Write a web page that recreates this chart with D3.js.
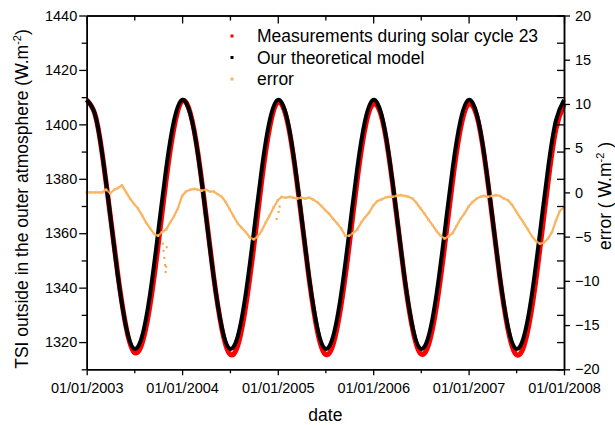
<!DOCTYPE html>
<html>
<head>
<meta charset="utf-8">
<script src="https://cdn.jsdelivr.net/npm/d3@7"></script>
<style>
  body { margin: 0; background: #fff; }
  svg { font-family: "Liberation Sans", Arial, sans-serif; }
</style>
</head>
<body>
<div id="chart"></div>
<script>
// TSI values, one value on the 1st of each month, Jan 2003 .. Jan 2008
var modelTSI = [
  1409.0, 1403.9, 1389.4, 1366.7, 1343.7, 1325.4, 1317.6, 1322.2, 1338.1, 1360.2, 1383.9, 1401.4,
  1409.0, 1403.9, 1389.4, 1366.7, 1343.7, 1325.4, 1317.6, 1322.2, 1338.1, 1360.2, 1383.9, 1401.4,
  1409.0, 1403.9, 1389.4, 1366.7, 1343.7, 1325.4, 1317.6, 1322.2, 1338.1, 1360.2, 1383.9, 1401.4,
  1409.0, 1403.9, 1389.4, 1366.7, 1343.7, 1325.4, 1317.6, 1322.2, 1338.1, 1360.2, 1383.9, 1401.4,
  1409.0, 1403.9, 1389.4, 1366.7, 1343.7, 1325.4, 1317.6, 1322.2, 1338.1, 1360.2, 1383.9, 1401.4,
  1409.0
];
var measuredTSI = [
  1409.0, 1403.9, 1389.4, 1366.6, 1344.2, 1325.4, 1316.3, 1319.6, 1334.0, 1355.3, 1379.7, 1398.7,
  1408.6, 1404.2, 1389.7, 1367.0, 1343.8, 1324.9, 1315.7, 1318.7, 1333.6, 1354.9, 1379.6, 1398.8,
  1408.1, 1403.3, 1388.8, 1366.1, 1343.1, 1324.3, 1315.6, 1319.2, 1334.0, 1355.3, 1379.7, 1398.6,
  1407.5, 1403.1, 1388.9, 1366.3, 1343.3, 1324.7, 1315.8, 1319.1, 1333.7, 1355.0, 1379.3, 1398.4,
  1407.4, 1403.2, 1389.0, 1366.3, 1343.3, 1324.5, 1315.5, 1318.7, 1333.1, 1354.4, 1378.7, 1398.2,
  1407.3
];
// error (W.m-2), on the 1st and 16th of each month
var errorValues = [
  0, 0, 0, 0, 0, 0.3, -0.1, 0.3, 0.5, 0.8, 0.0, -0.7, -1.3, -1.8, -2.6, -3.4, -4.1, -4.7, -4.9, -4.5, -4.2, -3.4, -2.7, -1.8,
  -0.4, 0.1, 0.3, 0.4, 0.3, 0.2, 0.3, 0.1, 0.1, -0.2, -0.5, -1.1, -1.9, -2.7, -3.5, -4.0, -4.5, -5.1, -5.3, -5.0, -4.3, -3.4, -2.6, -1.7,
  -0.9, -0.5, -0.6, -0.5, -0.6, -0.7, -0.6, -0.7, -0.6, -0.8, -1.1, -1.5, -2.0, -2.4, -3.0, -3.5, -4.1, -4.9, -4.9, -4.6, -4.2, -3.4, -2.8, -2.3,
  -1.5, -1.0, -0.8, -0.6, -0.5, -0.5, -0.4, -0.3, -0.4, -0.5, -0.7, -1.2, -1.8, -2.4, -3.1, -3.7, -4.4, -4.9, -5.2, -5.0, -4.6, -3.8, -3.0, -2.4,
  -1.6, -1.1, -0.7, -0.5, -0.4, -0.5, -0.4, -0.3, -0.4, -0.7, -0.9, -1.4, -2.1, -2.8, -3.5, -4.2, -5.0, -5.5, -5.8, -5.7, -5.2, -4.5, -3.2, -2.1,
  -1.7
];
// scattered error points away from the main trace
var outlierDates = ["2003-10-19", "2003-10-22", "2003-10-25", "2003-10-28", "2003-10-30", "2003-11-01", "2003-11-03",
                    "2004-12-28", "2005-01-04", "2005-01-08"];
var outlierValues = [-5.8, -6.6, -7.4, -8.2, -9.0, -8.4, -6.2, -3.0, -2.2, -1.6];

var leftTicks = [1320, 1340, 1360, 1380, 1400, 1420, 1440];
var rightTicks = [-20, -15, -10, -5, 0, 5, 10, 15, 20];
var yearTicks = ["2003-01-01", "2004-01-01", "2005-01-01", "2006-01-01", "2007-01-01", "2008-01-01"];

var legendItems = [
  {label: "Measurements during solar cycle 23", color: "#ff0000"},
  {label: "Our theoretical model", color: "#000000"},
  {label: "error", color: "#f8b868"}
];

var parseDate = d3.timeParse("%Y-%m-%d");
var fmt = d3.timeFormat("%d/%m/%Y");

var monthDates = d3.timeMonth.range(new Date(2003, 0, 1), new Date(2008, 0, 2));
var errorDates = [];
monthDates.forEach(function(d) {
    errorDates.push(d);
    errorDates.push(new Date(d.getFullYear(), d.getMonth(), 16));
});
errorDates = errorDates.slice(0, errorValues.length);

var width = 615, height = 425;
var margin = {top: 15.5, right: 51, bottom: 55.7, left: 86.7};

var svg = d3.select("#chart").append("svg")
    .attr("width", width)
    .attr("height", height);

var x = d3.scaleTime()
    .domain([parseDate("2003-01-01"), parseDate("2008-01-01")])
    .range([margin.left, width - margin.right]);
var yL = d3.scaleLinear().domain([1310, 1440]).range([height - margin.bottom, margin.top]);
var yR = d3.scaleLinear().domain([-20, 20]).range([height - margin.bottom, margin.top]);

var midYears = [2003, 2004, 2005, 2006, 2007].map(function(y) { return new Date(y, 6, 2); });
var majorDates = yearTicks.map(parseDate);
var leftMinor = d3.range(1310, 1441, 10).filter(function(v) { return leftTicks.indexOf(v) < 0; });

var plot = svg.append("g");

// measured (red) under model (black)
var tsiLine = function(vals, scale) {
    return d3.line()
        .x(function(d, i) { return x(monthDates[i]); })
        .y(function(d) { return scale(d); })
        .curve(d3.curveNatural)(vals);
};
plot.append("path")
    .attr("d", tsiLine(measuredTSI, yL))
    .attr("fill", "none")
    .attr("stroke", "#ff0000")
    .attr("stroke-width", 5);
plot.append("path")
    .attr("d", tsiLine(modelTSI, yL))
    .attr("fill", "none")
    .attr("stroke", "#000")
    .attr("stroke-width", 4);

// error trace
plot.append("path")
    .attr("d", d3.line()
        .x(function(d, i) { return x(errorDates[i]); })
        .y(function(d) { return yR(d); })(errorValues))
    .attr("fill", "none")
    .attr("stroke", "#f7a640")
    .attr("stroke-width", 2.2)
    .attr("stroke-opacity", 0.85);
plot.selectAll(".err")
    .data(errorValues)
    .enter().append("rect")
    .attr("x", function(d, i) { return x(errorDates[i]) - 1.2; })
    .attr("y", function(d) { return yR(d) - 1.2; })
    .attr("width", 2.4).attr("height", 2.4)
    .attr("fill", "#f8b868");
plot.selectAll(".outl")
    .data(outlierValues)
    .enter().append("rect")
    .attr("x", function(d, i) { return x(parseDate(outlierDates[i])) - 1; })
    .attr("y", function(d) { return yR(d) - 1; })
    .attr("width", 2).attr("height", 2)
    .attr("fill", "#f5a038");

// axes
var axisStyle = function(g) {
    g.select(".domain").attr("stroke-width", 1.5);
    g.selectAll(".tick line").attr("stroke-width", 1.3);
    g.selectAll("text").attr("font-family", "Liberation Sans, Arial, sans-serif").attr("fill", "#000");
};

var bottom = height - margin.bottom;
svg.append("g")
    .attr("transform", "translate(0," + bottom + ")")
    .call(d3.axisBottom(x).tickValues(majorDates).tickFormat(fmt).tickSize(6).tickPadding(7).tickSizeOuter(0))
    .call(axisStyle)
    .selectAll("text").attr("font-size", 14.5);
svg.append("g")
    .attr("transform", "translate(0," + bottom + ")")
    .call(d3.axisBottom(x).tickValues(midYears).tickFormat("").tickSize(4).tickSizeOuter(0))
    .call(axisStyle);
svg.append("g")
    .attr("transform", "translate(0," + margin.top + ")")
    .call(d3.axisBottom(x).tickValues(majorDates).tickFormat("").tickSize(8).tickSizeOuter(0))
    .call(axisStyle);
svg.append("g")
    .attr("transform", "translate(0," + margin.top + ")")
    .call(d3.axisBottom(x).tickValues(midYears).tickFormat("").tickSize(5).tickSizeOuter(0))
    .call(axisStyle);

svg.append("g")
    .attr("transform", "translate(" + margin.left + ",0)")
    .call(d3.axisLeft(yL).tickValues(leftTicks).tickFormat(d3.format("d")).tickSize(7.5).tickPadding(2).tickSizeOuter(0))
    .call(axisStyle)
    .selectAll("text").attr("font-size", 14.5);
svg.append("g")
    .attr("transform", "translate(" + margin.left + ",0)")
    .call(d3.axisLeft(yL).tickValues(leftMinor).tickFormat("").tickSize(5).tickSizeOuter(0))
    .call(axisStyle);

var rightX = width - margin.right;
svg.append("g")
    .attr("transform", "translate(" + rightX + ",0)")
    .call(d3.axisRight(yR).tickValues(rightTicks).tickFormat(d3.format("d")).tickSize(6).tickPadding(5).tickSizeOuter(0))
    .call(axisStyle)
    .selectAll("text").attr("font-size", 14.5);
svg.append("g")
    .attr("transform", "translate(" + rightX + ",0)")
    .call(d3.axisLeft(yL).tickValues(d3.range(1310, 1441, 10)).tickFormat("").tickSize(7).tickSizeOuter(0))
    .call(axisStyle);

// axis titles
svg.append("text")
    .attr("x", (margin.left + rightX) / 2)
    .attr("y", 421)
    .attr("text-anchor", "middle")
    .attr("font-size", 17.5)
    .text("date");

var lt = svg.append("text")
    .attr("text-anchor", "middle")
    .attr("font-size", 17.5)
    .attr("transform", "translate(28,199)rotate(-90)");
lt.append("tspan").text("TSI outside in the outer atmosphere (W.m");
lt.append("tspan").attr("font-size", 11).attr("dy", -7).text("-2");
lt.append("tspan").attr("dy", 7).text(")");

var rt = svg.append("text")
    .attr("text-anchor", "middle")
    .attr("font-size", 17.5)
    .attr("transform", "translate(611,196)rotate(-90)");
rt.append("tspan").text("error ( W.m");
rt.append("tspan").attr("font-size", 11).attr("dy", -7).text("-2");
rt.append("tspan").attr("dy", 7).text(" )");

// legend
var legend = svg.append("g");
legendItems.forEach(function(d, i) {
    var ly = 36 + i * 21.5;
    legend.append("rect")
        .attr("x", 230.5).attr("y", ly - 1.5)
        .attr("width", 3).attr("height", 3)
        .attr("fill", d.color);
    legend.append("text")
        .attr("x", 257)
        .attr("y", ly + 6)
        .attr("font-size", 17.5)
        .text(d.label);
});
</script>
</body>
</html>
